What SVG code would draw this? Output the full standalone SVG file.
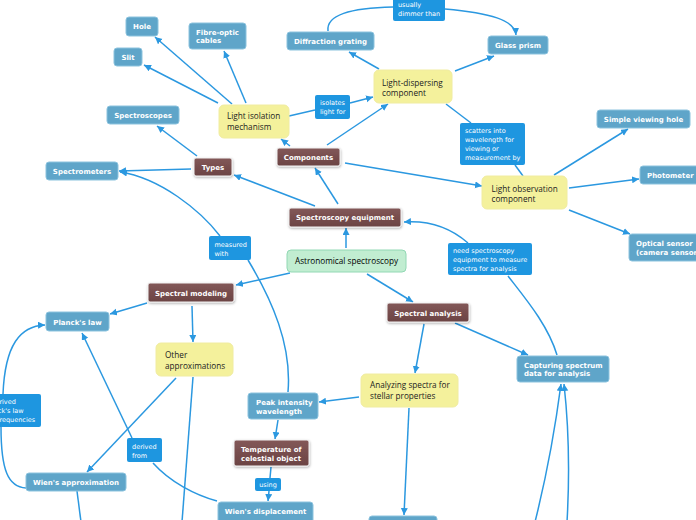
<svg xmlns="http://www.w3.org/2000/svg" width="696" height="520" viewBox="0 0 696 520">
<defs>
<marker id="ah" markerUnits="userSpaceOnUse" markerWidth="8" markerHeight="8" refX="7" refY="3.5" orient="auto">
<path d="M0,0 L7,3.5 L0,7 z" fill="#2b98e0"/>
</marker>
<linearGradient id="brown" x1="0" y1="0" x2="0" y2="1">
<stop offset="0" stop-color="#835858"/>
<stop offset="1" stop-color="#6b4343"/>
</linearGradient>
<filter id="sh" x="-10%" y="-20%" width="120%" height="150%">
<feDropShadow dx="0.5" dy="1.2" stdDeviation="0.8" flood-color="#000" flood-opacity="0.3"/>
</filter>
</defs>
<style>
.c{fill:none;stroke:#2b98e0;stroke-width:1.5}
.a{marker-end:url(#ah)}
.bl rect{fill:#5fa5c9;stroke:#8cc3de;stroke-width:1}
.bl text{fill:#fff;font-family:"DejaVu Sans",Verdana,sans-serif;font-weight:bold;font-size:7px}
.br rect{fill:url(#brown);stroke:#f2f2f2;stroke-width:1;filter:url(#sh)}
.br text{fill:#fff;font-family:"DejaVu Sans",Verdana,sans-serif;font-weight:bold;font-size:7px}
.ye rect{fill:#f4f19c;stroke:#f0eca0;stroke-width:1}
.ye text{fill:#222;font-family:"Open Sans","Noto Sans",sans-serif;font-size:8.2px}
.gr rect{fill:#c1edd1;stroke:#92d8b4;stroke-width:1}
.gr text{fill:#000;font-family:"Open Sans","Noto Sans",sans-serif;font-size:8.2px}
.lb rect{fill:#1e96e0}
.lb text{fill:#fff;font-family:"DejaVu Sans",Verdana,sans-serif;font-size:6.5px}
.m{text-anchor:middle}
</style>
<rect width="696" height="520" fill="#fff"/>
<g id="connectors">
<path class="c a" d="M232,104 L155,37"/>
<path class="c a" d="M218,103 L144,65"/>
<path class="c a" d="M246,103 L224,51"/>
<path class="c a" d="M197,156 L157,126"/>
<path class="c a" d="M191,169 L119,171"/>
<path class="c a" d="M315,206 L234,175"/>
<path class="c a" d="M338,204 L315,168"/>
<path class="c a" d="M290,146 L281,139"/>
<path class="c a" d="M327,145 L388,104"/>
<path class="c a" d="M345,163 L482,186"/>
<path class="c" d="M289,116 L315,110"/>
<path class="c a" d="M350,103 L373,97"/>
<path class="c a" d="M379,69 L349,52"/>
<path class="c a" d="M455,71 L494,56"/>
<path class="c" d="M328,31 C326,15 350,8 393,7"/>
<path class="c a" d="M445,9 C490,13 515,20 516,35"/>
<path class="c" d="M446,104 L471,123"/>
<path class="c" d="M515,165 L523,176"/>
<path class="c a" d="M554,175 L628,129"/>
<path class="c a" d="M569,188 L639,179"/>
<path class="c a" d="M569,210 L630,234"/>
<path class="c a" d="M346,248 L346,228"/>
<path class="c a" d="M290,273 L236,285"/>
<path class="c a" d="M367,274 L413,302"/>
<path class="c a" d="M147,303 L110,314"/>
<path class="c a" d="M192,306 L193,342"/>
<path class="c a" d="M424,324 L415,373"/>
<path class="c a" d="M455,323 L528,355"/>
<path class="c" d="M557,355 C548,325 525,298 508,276"/>
<path class="c a" d="M468,243 C452,229 432,220 404,222"/>
<path class="c a" d="M359,397 L319,402"/>
<path class="c a" d="M278,420 L275,439"/>
<path class="c" d="M271,467 L270,478"/>
<path class="c a" d="M269,491 L268,501"/>
<path class="c" d="M288,392 C292,345 272,300 248,260"/>
<path class="c a" d="M220,236 C200,210 160,178 120,172"/>
<path class="c" d="M217,501 C195,495 170,482 153,463"/>
<path class="c a" d="M132,438 L82,333"/>
<path class="c a" d="M176,378 L87,472"/>
<path class="c" d="M26,488 C8,487 1,470 1,427"/>
<path class="c a" d="M3,394 C5,345 20,326 45,325"/>
<path class="c" d="M193,377 L182,522"/>
<path class="c" d="M77,491 L81,522"/>
<path class="c a" d="M409,408 L404,515"/>
<path class="c a" d="M535,522 C548,470 555,430 561,384"/>
<path class="c a" d="M567,522 C570,470 568,420 564,384"/>
</g>
<g id="labels">
<g id="l-dimmer" class="lb"><rect x="393" y="-3" width="52" height="24" rx="2"/><text x="398" y="7">usually</text><text x="398" y="16">dimmer than</text></g>
<g id="l-isolates" class="lb"><rect x="315" y="95" width="35" height="24" rx="2"/><text x="320" y="105">isolates</text><text x="320" y="114">light for</text></g>
<g id="l-scatters" class="lb"><rect x="460" y="123" width="65" height="42" rx="2"/><text x="465" y="133">scatters into</text><text x="465" y="142">wavelength for</text><text x="465" y="151">viewing or</text><text x="465" y="160">measurement by</text></g>
<g id="l-need" class="lb"><rect x="448" y="243" width="84" height="32" rx="2"/><text x="453" y="253">need spectroscopy</text><text x="453" y="262">equipment to measure</text><text x="453" y="271">spectra for analysis</text></g>
<g id="l-measured" class="lb"><rect x="209" y="236" width="42" height="24" rx="2"/><text x="214.5" y="247">measured</text><text x="214.5" y="256">with</text></g>
<g id="l-derived" class="lb"><rect x="127" y="438" width="35" height="24" rx="2"/><text x="132" y="449">derived</text><text x="132" y="458">from</text></g>
<g id="l-using" class="lb"><rect x="255" y="478" width="26" height="13" rx="2"/><text class="m" x="268" y="487">using</text></g>
<g id="l-planck" class="lb"><rect x="-30" y="394" width="71" height="33" rx="2"/><text x="-16" y="404">is derived</text><text x="-16" y="413">Planck's law</text><text x="-16" y="422">low frequencies</text></g>
</g>
<g id="n-hole" class="bl"><rect x="126" y="17" width="32" height="19" rx="3"/><text class="m" x="142" y="29">Hole</text></g>
<g id="n-slit" class="bl"><rect x="114" y="48" width="28" height="18" rx="3"/><text class="m" x="128" y="60">Slit</text></g>
<g id="n-fibre" class="bl"><rect x="189" y="23" width="57" height="26" rx="3"/><text x="196" y="35">Fibre-optic</text><text x="196" y="43">cables</text></g>
<g id="n-spectroscopes" class="bl"><rect x="107" y="106" width="72" height="18" rx="3"/><text class="m" x="143" y="118">Spectroscopes</text></g>
<g id="n-spectrometers" class="bl"><rect x="46" y="162" width="72" height="18" rx="3"/><text class="m" x="82" y="174">Spectrometers</text></g>
<g id="n-diffraction" class="bl"><rect x="287" y="32" width="87" height="18" rx="3"/><text class="m" x="330.5" y="44">Diffraction grating</text></g>
<g id="n-prism" class="bl"><rect x="488" y="36" width="60" height="18" rx="3"/><text class="m" x="518" y="48">Glass prism</text></g>
<g id="n-viewhole" class="bl"><rect x="597" y="110" width="93" height="18" rx="3"/><text class="m" x="643.5" y="122">Simple viewing hole</text></g>
<g id="n-photometer" class="bl"><rect x="640" y="166" width="62" height="18" rx="3"/><text x="647" y="177.5">Photometer</text></g>
<g id="n-sensor" class="bl"><rect x="629" y="234" width="80" height="27" rx="3"/><text x="636" y="246">Optical sensor</text><text x="636" y="254.5">(camera sensor)</text></g>
<g id="n-planck" class="bl"><rect x="46" y="312" width="63" height="19" rx="3"/><text class="m" x="77.5" y="324.5">Planck's law</text></g>
<g id="n-peak" class="bl"><rect x="248" y="393" width="70" height="26" rx="3"/><text x="256" y="405">Peak intensity</text><text x="256" y="414">wavelength</text></g>
<g id="n-capturing" class="bl"><rect x="517" y="356" width="92" height="26" rx="3"/><text x="524" y="368">Capturing spectrum</text><text x="524" y="376">data for analysis</text></g>
<g id="n-wienapprox" class="bl"><rect x="26" y="473" width="100" height="18" rx="3"/><text class="m" x="76" y="485">Wien's approximation</text></g>
<g id="n-wiendisp" class="bl"><rect x="218" y="502" width="95" height="25" rx="3"/><text class="m" x="265.5" y="514">Wien's displacement</text></g>
<g id="n-bottom" class="bl"><rect x="369" y="516" width="68" height="12" rx="3"/></g>
<g id="n-types" class="br"><rect x="194" y="158" width="38" height="18" rx="2"/><text class="m" x="213" y="169.5">Types</text></g>
<g id="n-components" class="br"><rect x="277" y="148" width="63" height="18" rx="2"/><text class="m" x="308.5" y="159.5">Components</text></g>
<g id="n-equipment" class="br"><rect x="289" y="208" width="112" height="19" rx="2"/><text class="m" x="345" y="220">Spectroscopy equipment</text></g>
<g id="n-modeling" class="br"><rect x="148" y="283" width="86" height="19" rx="2"/><text class="m" x="191" y="295.5">Spectral modeling</text></g>
<g id="n-analysis" class="br"><rect x="387" y="303" width="82" height="19" rx="2"/><text class="m" x="428" y="315.5">Spectral analysis</text></g>
<g id="n-temperature" class="br"><rect x="234" y="440" width="75" height="26" rx="2"/><text x="241" y="452">Temperature of</text><text x="241" y="461">celestial object</text></g>
<g id="n-isolation" class="ye"><rect x="219" y="105" width="70" height="33" rx="5"/><text x="227" y="119">Light isolation</text><text x="227" y="130">mechanism</text></g>
<g id="n-dispersing" class="ye"><rect x="374" y="70" width="78" height="33" rx="5"/><text x="382" y="85.5">Light-dispersing</text><text x="382" y="96">component</text></g>
<g id="n-observation" class="ye"><rect x="482" y="176" width="85" height="33" rx="5"/><text x="491.5" y="191.5">Light observation</text><text x="491.5" y="202">component</text></g>
<g id="n-other" class="ye"><rect x="156" y="343" width="77" height="33" rx="5"/><text x="165" y="358">Other</text><text x="165" y="369">approximations</text></g>
<g id="n-analyzing" class="ye"><rect x="361" y="374" width="97" height="33" rx="5"/><text x="370" y="388">Analyzing spectra for</text><text x="370" y="399">stellar properties</text></g>
<g id="n-astro" class="gr"><rect x="287" y="250" width="119" height="22" rx="4"/><text class="m" x="346.5" y="264">Astronomical spectroscopy</text></g>
</svg>
